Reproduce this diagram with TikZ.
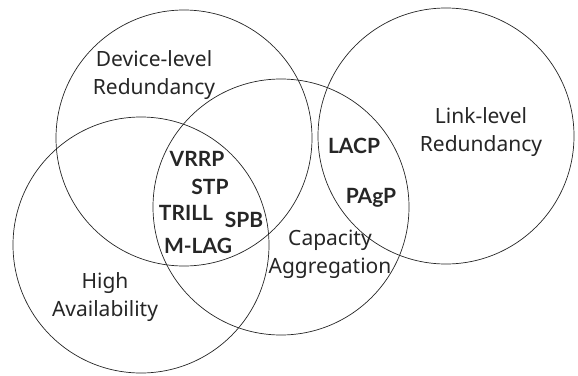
\documentclass[tikz,border=0pt]{standalone}
\usepackage{fontspec}
\setmainfont{Noto Sans}
\newfontfamily\protofont{Lato}
\usepackage{tikz}
\tikzstyle{set} = [circle, draw=black!85, line width=0.7pt, minimum size=256pt, inner sep=0pt]
\tikzstyle{area} = [text=black!85, align=center, font=\fontsize{21}{28}\selectfont]
\tikzstyle{proto} = [text=black!85, anchor=base, inner sep=0pt, font=\fontsize{21}{25}\protofont\bfseries]

\begin{document}
\begin{tikzpicture}[x=1pt, y=-1pt]
            \useasboundingbox (0,0) rectangle (578,375);

            % the four sets
            \node (dev) [set] at (184,138) {};
            \node (cap) [set] at (281,207) {};
            \node (avail) [set] at (141,245) {};
            \node (link) [set] at (446,136) {};

            % set names
            \node (devname) [area] at (154,75) {Device-level\\Redundancy};
            \node (linkname) [area] at (481,132) {Link-level\\Redundancy};
            \node (availname) [area] at (105,297) {High\\Availability};
            \node (capname) [area] at (330,254) {Capacity\\Aggregation};

            % protocols in the overlaps
            \node (vrrp) [proto] at (197,166) {VRRP};
            \node (stp) [proto] at (210,194) {STP};
            \node (trill) [proto] at (186,220) {TRILL};
            \node (spb) [proto] at (244,227) {SPB};
            \node (mlag) [proto] at (198,253) {M-LAG};
            \node (lacp) [proto] at (354,153) {LACP};
            \node (pagp) [proto] at (371,203) {PAgP};
        \end{tikzpicture}
\end{document}
